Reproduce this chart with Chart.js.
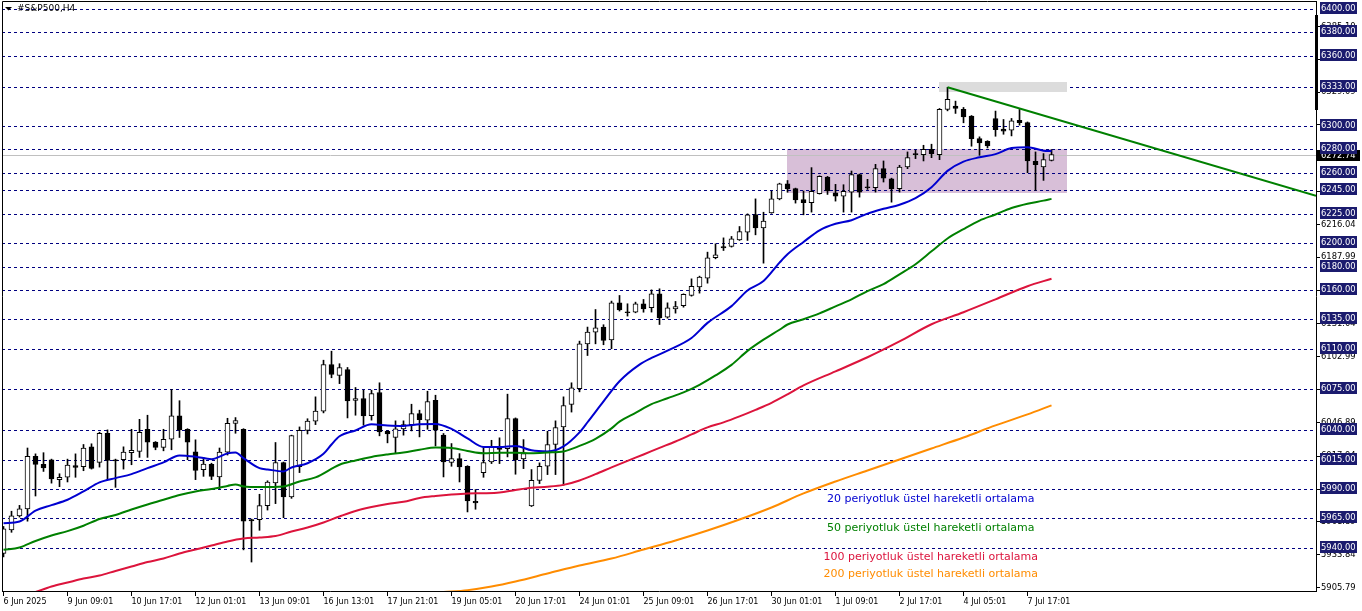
<!DOCTYPE html>
<html>
<head>
<meta charset="utf-8">
<title>#S&amp;P500,H4</title>
<script src="https://cdn.jsdelivr.net/npm/chart.js@4.4.1/dist/chart.umd.min.js"></script>
<style>
  html, body { margin: 0; padding: 0; background: #fff; }
  #box { position: relative; width: 1362px; height: 611px; }
</style>
</head>
<body>
<div id="box"><canvas id="chart"></canvas></div>
<script>
// H4 bars, oldest first (index = bar number)
const opens = [
  5935, 5955, 5967, 5973, 6018, 6011, 6015, 5998,
  6000, 6010, 6009, 6026, 6012.7, 6037.6, 6015, 6015,
  6021, 6022, 6041, 6030, 6025.5, 6032.5, 6052.4, 6041,
  6021.8, 6006.5, 6011, 6000.2, 6021.5, 6046, 6041, 5963.8,
  5963.8, 5975.8, 5995.2, 6012.6, 5983.2, 6009, 6040, 6048,
  6056.5, 6096.3, 6087, 6092, 6065.6, 6067.3, 6052.7, 6072.4,
  6039.3, 6034, 6041.3, 6045, 6054.4, 6048.7, 6065.8, 6036,
  6012.6, 6016, 6009.4, 5979.5, 6004, 6013.1, 6026, 6024.5,
  6050.2, 6015.7, 5975.5, 5997.4, 6009.4, 6028, 6043, 6062.2,
  6075.6, 6114, 6124, 6128.3, 6117.4, 6149, 6141.1, 6141.1,
  6148.2, 6144.8, 6156.7, 6136.8, 6143.9, 6146.5, 6155.3, 6162.5,
  6170.1, 6187.5, 6197, 6197.1, 6202.8, 6209.4, 6224.4, 6213.1,
  6225.9, 6237.8, 6250.6, 6246.5, 6237.3, 6234.5, 6242.2, 6256.5,
  6243, 6240.2, 6243.6, 6258.5, 6248.2, 6247.3, 6263.6, 6255,
  6246.5, 6265, 6276.5, 6275.6, 6280.2, 6275.6, 6314.2, 6317,
  6314.2, 6308.5, 6289.3, 6287, 6306.5, 6297.4, 6296.5, 6305,
  6303, 6269.9, 6265, 6270.7
];
const highs = [
  5958, 5971, 5976, 6025, 6020, 6021, 6015.5, 6003,
  6015.5, 6020, 6028, 6028.6, 6038.5, 6040.5, 6015.5, 6026,
  6041, 6049.5, 6053, 6030.5, 6041, 6075, 6065.4, 6041.5,
  6032, 6017, 6012, 6025, 6050.4, 6051, 6041.5, 5964.3,
  5985.5, 5997, 6029.7, 6013, 6036, 6043, 6050, 6068.7,
  6100, 6107.7, 6097, 6093.8, 6076.7, 6074.4, 6074.4, 6080.7,
  6039.8, 6048.2, 6048.2, 6062.4, 6057.3, 6073.5, 6070.1, 6037.4,
  6028.8, 6020.2, 6009.9, 5989.5, 6025.9, 6031.6, 6033.7, 6071,
  6050.7, 6032.2, 6006.6, 6012.3, 6039.3, 6048.2, 6068.7, 6080.7,
  6116.3, 6128.3, 6143.3, 6130.3, 6150.5, 6155.3, 6148.2, 6149.6,
  6151.9, 6160.1, 6161, 6149, 6150.2, 6156.7, 6169.5, 6171.8,
  6192.3, 6199.4, 6204.5, 6205.7, 6214.2, 6225, 6237.8, 6226.4,
  6244.4, 6251.2, 6253.5, 6247, 6244.5, 6264.5, 6257.5, 6257,
  6250.2, 6249.9, 6261.6, 6259, 6254.5, 6267.3, 6270.2, 6255.5,
  6266.5, 6277.9, 6279.3, 6283.6, 6284.5, 6315, 6333.1, 6321.3,
  6315.9, 6309, 6290.8, 6287.5, 6312.8, 6305.6, 6306.5, 6314.2,
  6303.5, 6277.9, 6276.5, 6279.9
];
const lows = [
  5932, 5953, 5966, 5962.5, 5984, 6005, 5995, 5992,
  5996, 6000, 6005.6, 6007, 6008.7, 5998, 5991.4, 6007,
  6010.7, 6017, 6017, 6023.5, 6022.6, 6023.5, 6034, 6015,
  5998, 6000.8, 5998, 5990, 6019, 6037.6, 5938, 5927.6,
  5954.7, 5972, 5977.5, 5965.5, 5982, 6004, 6037, 6045,
  6055, 6085, 6080, 6050.7, 6053, 6044.5, 6048.8, 6035.4,
  6029.4, 6020.8, 6036, 6039.6, 6034.5, 6041, 6026.8, 6000.3,
  6009.4, 5996, 5970.4, 5972.7, 6000, 6011.7, 6011.7, 6017.4,
  6002.6, 6007.4, 5975, 5994.6, 6002.3, 6002.3, 5993.2, 6055.7,
  6073, 6104, 6114, 6113.2, 6109.8, 6142, 6137.7, 6140.5,
  6141, 6141.1, 6130.5, 6135.9, 6140.2, 6145.3, 6154.7, 6157.3,
  6165.8, 6186.6, 6193.7, 6196.6, 6202.3, 6202.3, 6207.1, 6182.9,
  6225.5, 6237, 6243.5, 6234.2, 6224.2, 6226.5, 6241.9, 6241.6,
  6235.9, 6226.5, 6226.5, 6239.3, 6245.9, 6243.6, 6252.2, 6235,
  6243.6, 6263.6, 6272.2, 6270.2, 6273, 6271.3, 6313, 6310.8,
  6302.8, 6282.8, 6275, 6281.3, 6291.3, 6293, 6291.6, 6300.8,
  6260.2, 6245, 6253.6, 6270.2
];
const closes = [
  5956, 5967, 5973, 6018, 6011, 6008, 5998.5, 6000,
  6010.4, 6008.5, 6025, 6007.6, 6037.6, 6014.4, 6014, 6021.5,
  6023, 6038.5, 6030, 6025.5, 6032.5, 6052.4, 6040.5, 6030,
  6005.9, 6011.3, 6000.8, 6021.5, 6046.1, 6048.4, 5962.5, 5962.7,
  5975.8, 5996, 6012.6, 5983.2, 6035.6, 6040, 6048, 6056.5,
  6096.3, 6087.8, 6093.8, 6065.3, 6067.3, 6052.5, 6071.5, 6038.8,
  6037, 6041.3, 6045, 6054.4, 6049.3, 6064.7, 6040.2, 6013.1,
  6016, 6008.9, 5979.8, 5978, 6012.6, 6026, 6023.7, 6050.2,
  6015.1, 6020.3, 5997.4, 6009.4, 6028, 6042.5, 6061.3, 6076.5,
  6114, 6124, 6127.7, 6116.9, 6149, 6143, 6140.5, 6148.2,
  6143.9, 6156.7, 6136.2, 6144.8, 6145.9, 6156.2, 6163, 6171,
  6187.5, 6190, 6196, 6203.7, 6209.9, 6224.2, 6213.1, 6218.8,
  6237.8, 6250.6, 6246.4, 6237, 6234.5, 6244.2, 6257, 6244.5,
  6240.2, 6244.2, 6258.5, 6243.6, 6247.3, 6263.6, 6255.6, 6246.5,
  6265, 6273, 6275.6, 6280.2, 6276.5, 6314.2, 6322.8, 6315,
  6307.9, 6289.3, 6285.6, 6283, 6297, 6295.6, 6304.5, 6303,
  6270.2, 6267, 6271.3, 6275.6
];

// time axis: one label every 8 bars
const labelStep = 8;
const timeLabels = ['6 Jun 2025', '9 Jun 09:01', '10 Jun 17:01', '12 Jun 01:01', '13 Jun 09:01',
  '16 Jun 13:01', '17 Jun 21:01', '19 Jun 05:01', '20 Jun 17:01', '24 Jun 01:01', '25 Jun 09:01',
  '26 Jun 17:01', '30 Jun 01:01', '1 Jul 09:01', '2 Jul 17:01', '4 Jul 05:01', '7 Jul 17:01'];

// price scale
const yTicks = [6385.10, 6357.14, 6329.09, 6301.04, 6244.09, 6216.04, 6187.99, 6159.94, 6131.04,
  6102.99, 6074.94, 6046.89, 6017.94, 5989.94, 5961.89, 5933.84, 5905.79];
const levels = [6400, 6380, 6360, 6333, 6300, 6280, 6260, 6245, 6225, 6200, 6180, 6160, 6135,
  6110, 6075, 6040, 6015, 5990, 5965, 5940];
const bidPrice = 6275.3;
const bidText = '6272.74';

// moving averages, [bar, price]
const ema20 = [[0, 5960.8], [2, 5962.2], [4, 5971.6], [6, 5976.2], [8, 5980.8], [10, 5987.9], [12, 5995.6],
  [14, 5999.3], [16, 6002.7], [18, 6007.8], [20, 6012.7], [22, 6018.7], [24, 6017.6], [26, 6015.5],
  [28, 6020.4], [29, 6021.2], [30, 6016.4], [32, 6007.8], [33, 6006.7], [35, 6005], [36, 6008.4],
  [38, 6012], [40, 6020], [41, 6028], [42, 6035], [44, 6040], [46, 6045.2], [48, 6044.3], [50, 6043.9],
  [52, 6045.2], [54, 6045.6], [56, 6041.3], [58, 6033.2], [60, 6025.8], [62, 6025.8], [64, 6026.8],
  [66, 6023], [68, 6022.1], [70, 6026.4], [72, 6038.4], [73, 6047], [75, 6064.8], [77, 6082],
  [79.5, 6096.2], [81, 6101.9], [83, 6108.2], [86, 6119], [88, 6131.9], [91, 6146.2], [93, 6159.6],
  [95, 6167.6], [97, 6183.3], [98, 6190.5], [100, 6201], [102, 6211], [104, 6216.5], [106, 6219.6],
  [108, 6225.2], [110, 6229.3], [112, 6232.8], [114, 6238.4], [116, 6247.8], [118, 6261.7],
  [120, 6269.6], [122, 6273.3], [124, 6276], [126, 6281.2], [128, 6282], [130, 6279], [131, 6278.6]];
const ema50 = [[0, 5938], [2, 5940], [4, 5945.6], [6, 5950.3], [8, 5954], [10, 5958.6], [12, 5964.4],
  [14, 5967.8], [16, 5972.5], [18, 5976.8], [20, 5980.8], [22, 5984.9], [24, 5987.9], [26, 5990],
  [28, 5992.6], [29, 5993.9], [30, 5992.2], [32, 5991.6], [35, 5992.2], [37, 5996.4], [39, 5999.9],
  [42, 6010.7], [44, 6014.4], [46, 6017.4], [48, 6019.5], [50, 6021.2], [52, 6023.5], [54, 6025.5],
  [56, 6025.1], [58, 6022.5], [60, 6020.6], [62, 6021], [64, 6021], [66, 6020.6], [68, 6021.2],
  [70, 6022.1], [72, 6026.8], [74, 6032.8], [76, 6041.8], [77, 6047.5], [79, 6055], [81, 6062.5],
  [83, 6067.5], [85, 6072.5], [87, 6079], [89, 6087], [91, 6096], [93, 6108], [95, 6117.6],
  [97, 6126], [98, 6130.5], [100, 6135], [102, 6140], [104, 6146], [106, 6152], [108, 6159],
  [110, 6165], [112, 6173.4], [114, 6182], [116, 6193], [118, 6204], [120, 6212], [122, 6219.3],
  [124, 6224.5], [126, 6230], [128, 6233.7], [130, 6236.3], [131, 6237.8]];
const ema100 = [[4, 5902], [6, 5906.7], [8, 5910.1], [10, 5913.5], [12, 5916.1], [14, 5920], [16, 5923.8],
  [18, 5927.6], [20, 5930.6], [22, 5934.9], [24, 5938.3], [26, 5941.7], [28, 5945.2], [30, 5947.7],
  [32, 5948.6], [34, 5949.8], [36, 5953.7], [38, 5957.1], [40, 5961.4], [42, 5966.5], [44, 5971.2],
  [46, 5974.6], [48, 5977.2], [50, 5979.1], [52, 5982.3], [54, 5984], [56, 5985.3], [58, 5986.2],
  [60, 5986.4], [62, 5987], [64, 5989.2], [66, 5991.1], [68, 5991.9], [70, 5993.5], [72, 5997.3],
  [74, 6002.7], [76, 6008.4], [78, 6014], [80, 6019.5], [82, 6025.1], [84, 6030.6], [86, 6036.6],
  [88, 6042.6], [90, 6046.9], [92, 6052], [94, 6057.6], [96, 6063.6], [98, 6070.8], [100, 6078.5],
  [104, 6090.5], [108, 6102.5], [112, 6116], [116, 6130.7], [120, 6141], [124, 6152], [128, 6163.2],
  [131, 6169.6]];
const ema200 = [[55, 5902], [58, 5903.6], [61, 5906.7], [64, 5911], [68, 5917.8], [72, 5924.6],
  [76, 5930.6], [80, 5938.3], [84, 5946], [88, 5954.5], [92, 5963.9], [96, 5974.2], [100, 5986.2],
  [104, 5996.4], [108, 6005.8], [112, 6015.2], [116, 6024.6], [120, 6034], [124, 6044.3],
  [128, 6053.7], [131, 6061.4]];

// chart objects: [bar from, bar to, price low, price high]
const purpleZone = [97.9, 132.9, 6242.8, 6280.2];
const greyZone = [116.9, 132.9, 6329.4, 6337.3];
const trendLine = [[118, 6333.1], [164.06, 6240.4]];
const axisMark = [6394.9, 6313.7];

const maNames = ['20 periyotluk üstel hareketli ortalama', '50 periyotluk üstel hareketli ortalama',
  '100 periyotluk üstel hareketli ortalama', '200 periyotluk üstel hareketli ortalama'];
const maColors = ['#0000d0', '#008000', '#dc143c', '#ff8c00'];
const maTextAt = [[115.9, 5978.9], [115.9, 5953.7], [115.9, 5929.3], [115.9, 5914.4]];

const xMin = -0.1875, xMax = 164.06;
const yMin = 5902.86, yMax = 6406.83;

const pts = arr => arr.map(p => ({ x: p[0], y: p[1] }));
const bodyColors = opens.map((o, i) => closes[i] >= o ? '#ffffff' : '#000000');

const overlay = {
  id: 'overlay',
  beforeDatasetsDraw(chart) {
    const { ctx, chartArea: a, scales: { x, y } } = chart;
    ctx.save();
    ctx.beginPath();
    ctx.rect(a.left, a.top, a.right - a.left, a.bottom - a.top);
    ctx.clip();
    const zone = (z, color) => {
      const x0 = Math.round(x.getPixelForValue(z[0])), x1 = Math.round(x.getPixelForValue(z[1]));
      const y0 = Math.round(y.getPixelForValue(z[3])), y1 = Math.round(y.getPixelForValue(z[2]));
      ctx.fillStyle = color;
      ctx.fillRect(x0, y0, x1 - x0, y1 - y0);
    };
    zone(purpleZone, '#d8bfd8');
    ctx.strokeStyle = '#000080';
    ctx.lineWidth = 1;
    ctx.setLineDash([3, 3]);
    levels.forEach(v => {
      const py = Math.round(y.getPixelForValue(v)) + 0.5;
      ctx.beginPath();
      ctx.moveTo(a.left, py);
      ctx.lineTo(a.right, py);
      ctx.stroke();
    });
    ctx.setLineDash([]);
    zone(greyZone, '#dcdcdc');
    const by = Math.round(y.getPixelForValue(bidPrice)) + 0.5;
    ctx.strokeStyle = '#c0c0c0';
    ctx.beginPath();
    ctx.moveTo(a.left, by);
    ctx.lineTo(a.right, by);
    ctx.stroke();
    ctx.restore();
  },
  afterDatasetsDraw(chart) {
    const { ctx, chartArea: a, scales: { x, y } } = chart;
    ctx.save();
    ctx.font = '11px "DejaVu Sans"';
    ctx.textAlign = 'center';
    ctx.textBaseline = 'alphabetic';
    maNames.forEach((t, i) => {
      ctx.fillStyle = maColors[i];
      ctx.fillText(t, x.getPixelForValue(maTextAt[i][0]), y.getPixelForValue(maTextAt[i][1]));
    });
    // symbol caption
    ctx.fillStyle = '#000';
    ctx.beginPath();
    ctx.moveTo(a.left + 3, a.top + 6);
    ctx.lineTo(a.left + 10, a.top + 6);
    ctx.lineTo(a.left + 6.5, a.top + 9.5);
    ctx.closePath();
    ctx.fill();
    ctx.font = '9px "DejaVu Sans"';
    ctx.textAlign = 'left';
    ctx.textBaseline = 'middle';
    ctx.fillText('#S&P500,H4', a.left + 15, a.top + 8);
    ctx.restore();
  },
  afterDraw(chart) {
    const { ctx, chartArea: a, scales: { y } } = chart;
    ctx.save();
    // frame
    ctx.strokeStyle = '#000';
    ctx.lineWidth = 1;
    ctx.beginPath();
    ctx.moveTo(a.left + 0.5, a.bottom);
    ctx.lineTo(a.left + 0.5, a.top + 0.5);
    ctx.lineTo(a.right, a.top + 0.5);
    ctx.stroke();
    // thick mark on the price axis
    const m0 = y.getPixelForValue(axisMark[0]), m1 = y.getPixelForValue(axisMark[1]);
    ctx.fillStyle = '#000';
    ctx.fillRect(a.right - 1, Math.round(m0), 3, Math.round(m1 - m0));
    // bid label and level labels
    ctx.font = '8.4px "DejaVu Sans"';
    ctx.textAlign = 'left';
    ctx.textBaseline = 'middle';
    const by = Math.round(y.getPixelForValue(bidPrice));
    ctx.fillStyle = '#000';
    ctx.fillRect(a.right, by - 5, 44, 11);
    ctx.fillStyle = '#fff';
    ctx.fillText(bidText, a.right + 5, by + 0.5);
    levels.forEach(v => {
      const py = Math.round(y.getPixelForValue(v)) - 1;
      ctx.fillStyle = '#1b1b6e';
      ctx.fillRect(a.right + 4, py - 6, 37, 12);
      ctx.fillStyle = '#fff';
      ctx.fillText(v.toFixed(2), a.right + 5, py + 0.5);
    });
    ctx.restore();
  }
};

Chart.defaults.font.family = '"DejaVu Sans"';

new Chart(document.getElementById('chart'), {
  type: 'bar',
  data: {
    datasets: [
      {
        type: 'bar',
        data: highs.map((h, i) => ({ x: i, y: [lows[i], h] })),
        backgroundColor: '#000000',
        borderWidth: 0,
        barThickness: 1,
        grouped: false,
        order: 3
      },
      {
        type: 'bar',
        data: opens.map((o, i) => ({ x: i, y: [Math.min(o, closes[i]), Math.max(o, closes[i])] })),
        backgroundColor: bodyColors,
        borderColor: '#000000',
        borderWidth: 1,
        borderSkipped: false,
        barThickness: 5,
        minBarLength: 1,
        grouped: false,
        order: 2
      },
      { type: 'line', data: pts(ema200), borderColor: maColors[3], borderWidth: 2, pointRadius: 0, cubicInterpolationMode: 'monotone', order: 1 },
      { type: 'line', data: pts(ema100), borderColor: maColors[2], borderWidth: 2, pointRadius: 0, cubicInterpolationMode: 'monotone', order: 1 },
      { type: 'line', data: pts(ema50), borderColor: maColors[1], borderWidth: 2, pointRadius: 0, cubicInterpolationMode: 'monotone', order: 1 },
      { type: 'line', data: pts(ema20), borderColor: maColors[0], borderWidth: 2, pointRadius: 0, cubicInterpolationMode: 'monotone', order: 1 },
      { type: 'line', data: pts(trendLine), borderColor: '#008000', borderWidth: 2, pointRadius: 0, order: 0 }
    ]
  },
  options: {
    responsive: true,
    maintainAspectRatio: false,
    animation: false,
    events: [],
    layout: { padding: { left: 2, top: 1, right: 0, bottom: 0 } },
    plugins: { legend: { display: false }, tooltip: { enabled: false } },
    scales: {
      x: {
        type: 'linear',
        min: xMin,
        max: xMax,
        offset: false,
        afterBuildTicks: s => { s.ticks = timeLabels.map((t, i) => ({ value: i * labelStep })); },
        afterFit: s => { s.height = 20; s.paddingLeft = 0; s.paddingRight = 0; },
        ticks: {
          autoSkip: false,
          maxRotation: 0,
          align: 'start',
          padding: 1,
          color: '#000',
          font: { size: 8 },
          callback: v => timeLabels[Math.round(v / labelStep)]
        },
        grid: { drawOnChartArea: false, tickLength: 5, color: '#000', offset: false },
        border: { display: true, color: '#000' }
      },
      y: {
        type: 'linear',
        position: 'right',
        min: yMin,
        max: yMax,
        beginAtZero: false,
        afterBuildTicks: s => { s.ticks = yTicks.map(v => ({ value: v })); },
        afterFit: s => { s.width = 46; s.paddingTop = 0; s.paddingBottom = 0; },
        ticks: {
          autoSkip: false,
          padding: 1,
          color: '#000',
          font: { size: 8.4 },
          callback: v => v.toFixed(2)
        },
        grid: { drawOnChartArea: false, tickLength: 4, color: '#000' },
        border: { display: true, color: '#000' }
      }
    }
  },
  plugins: [overlay]
});
</script>
</body>
</html>
